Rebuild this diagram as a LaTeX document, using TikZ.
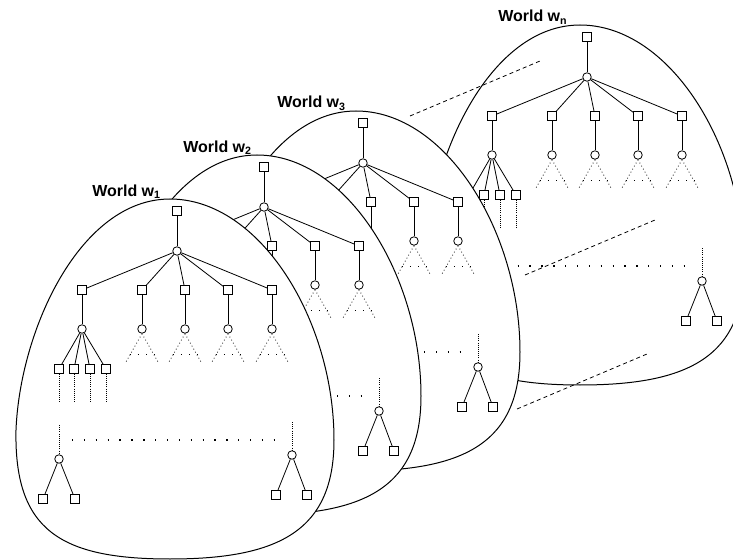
\documentclass[tikz,border=0pt]{standalone}
\usepackage{fontspec}
\setsansfont{Liberation Sans}
\usetikzlibrary{positioning}
\tikzset{
  font=\sffamily\small,
  %
  world/.style={draw=black, line width=0.75pt, fill=white},
  sq/.style={rectangle, draw=black, line width=0.6pt, fill=white,
             minimum size=6.4pt, inner sep=0pt},
  ci/.style={circle, draw=black, line width=0.6pt, fill=white,
             minimum size=6.4pt, inner sep=0pt},
  %
  link/.style={draw=black, line width=0.6pt},
  vdots/.style={draw=black, line width=0.6pt, densely dotted},
  tri/.style={draw=black, line width=0.6pt, dotted},
  bar/.style={draw=black, line width=0.8pt, dash pattern=on 0.8pt off 5.4pt},
  rowdots/.style={draw=black, line width=1pt, dash pattern=on 1pt off 7.9pt},
  gap/.style={draw=black, line width=0.6pt, dash pattern=on 3pt off 2.4pt},
  %
  wlabel/.style={font=\sffamily\bfseries\fontsize{12}{14}\selectfont,
                 anchor=base west, inner sep=0pt},
}

\begin{document}
\begin{tikzpicture}[x=0.75pt, y=-0.75pt]
\useasboundingbox (0,0) rectangle (733,560);
\clip (0,0) rectangle (733,560);

% worlds, from the back to the front
\foreach \dx/\dy/\w/\lx [count=\k] in {410/-174/n/498, 186/-88/3/277, 87/-44/2/183, 0/0/1/92} {
  \node[wlabel] (t-\w) at ({\lx},{196+\dy}) {World w\textsubscript{\w}};

  \begin{scope}[shift={(\dx,\dy)}]
    \draw[world] (170,199) .. controls (80,199) and (20,330) .. (16,430)
      .. controls (14,530) and (60,559) .. (170,559)
      .. controls (280,559) and (334,530) .. (334,440)
      .. controls (334,320) and (260,199) .. (170,199) -- cycle;

    % upper tree
    \node[sq] (r-\w) at (177,211) {};
    \node[ci] (c-\w) at (177,251) {};
    \draw[link] (r-\w) -- (c-\w);
    \foreach \x [count=\i] in {82,142,185,228,272} {
      \node[sq] (a\i-\w) at (\x,290) {};
      \node[ci] (b\i-\w) at (\x,329) {};
      \draw[link] (c-\w) -- (a\i-\w);
      \draw[link] (a\i-\w) -- (b\i-\w);
    }
    \foreach \x [count=\i] in {59,74,90,106} {
      \node[sq] (g\i-\w) at (\x,369) {};
      \coordinate (e\i-\w) at (\x,403);
      \draw[link] (b1-\w) -- (g\i-\w);
      \draw[vdots] (g\i-\w) -- (e\i-\w);
    }
    \foreach \i in {2,...,5} {
      \draw[tri] (b\i-\w.south) -- ++(-17,30) (b\i-\w.south) -- ++(17,30);
      \draw[bar] (b\i-\w.south) ++(-12.5,21) -- ++(26,0);
    }

    % lower subtrees
    \coordinate (lt-\w) at (59,425);
    \node[ci] (l-\w)  at (59,459) {};
    \node[sq] (l1-\w) at (43,499) {};
    \node[sq] (l2-\w) at (75,499) {};
    \coordinate (mt-\w) at (292,422);
    \node[ci] (m-\w)  at (292,455) {};
    \node[sq] (m1-\w) at (276,495) {};
    \node[sq] (m2-\w) at (307,495) {};
    \draw[vdots] (lt-\w) -- (l-\w);
    \draw[vdots] (mt-\w) -- (m-\w);
    \draw[link] (l-\w) -- (l1-\w);
    \draw[link] (l-\w) -- (l2-\w);
    \draw[link] (m-\w) -- (m1-\w);
    \draw[link] (m-\w) -- (m2-\w);
    \coordinate (ds-\w) at (72,440);
    \coordinate (de-\w) at (274.5,440);
    \draw[rowdots] (ds-\w) -- (de-\w);
  \end{scope}

  % dashed guides between w3 and wn
  \ifnum\k=1
    \coordinate (p1) at (410,116); \coordinate (q1) at (540,61);
    \coordinate (p2) at (525,275); \coordinate (q2) at (655,220);
    \coordinate (p3) at (517,409); \coordinate (q3) at (647,354);
    \draw[gap] (p1) -- (q1);
    \draw[gap] (p2) -- (q2);
    \draw[gap] (p3) -- (q3);
  \fi
}

\end{tikzpicture}
\end{document}
